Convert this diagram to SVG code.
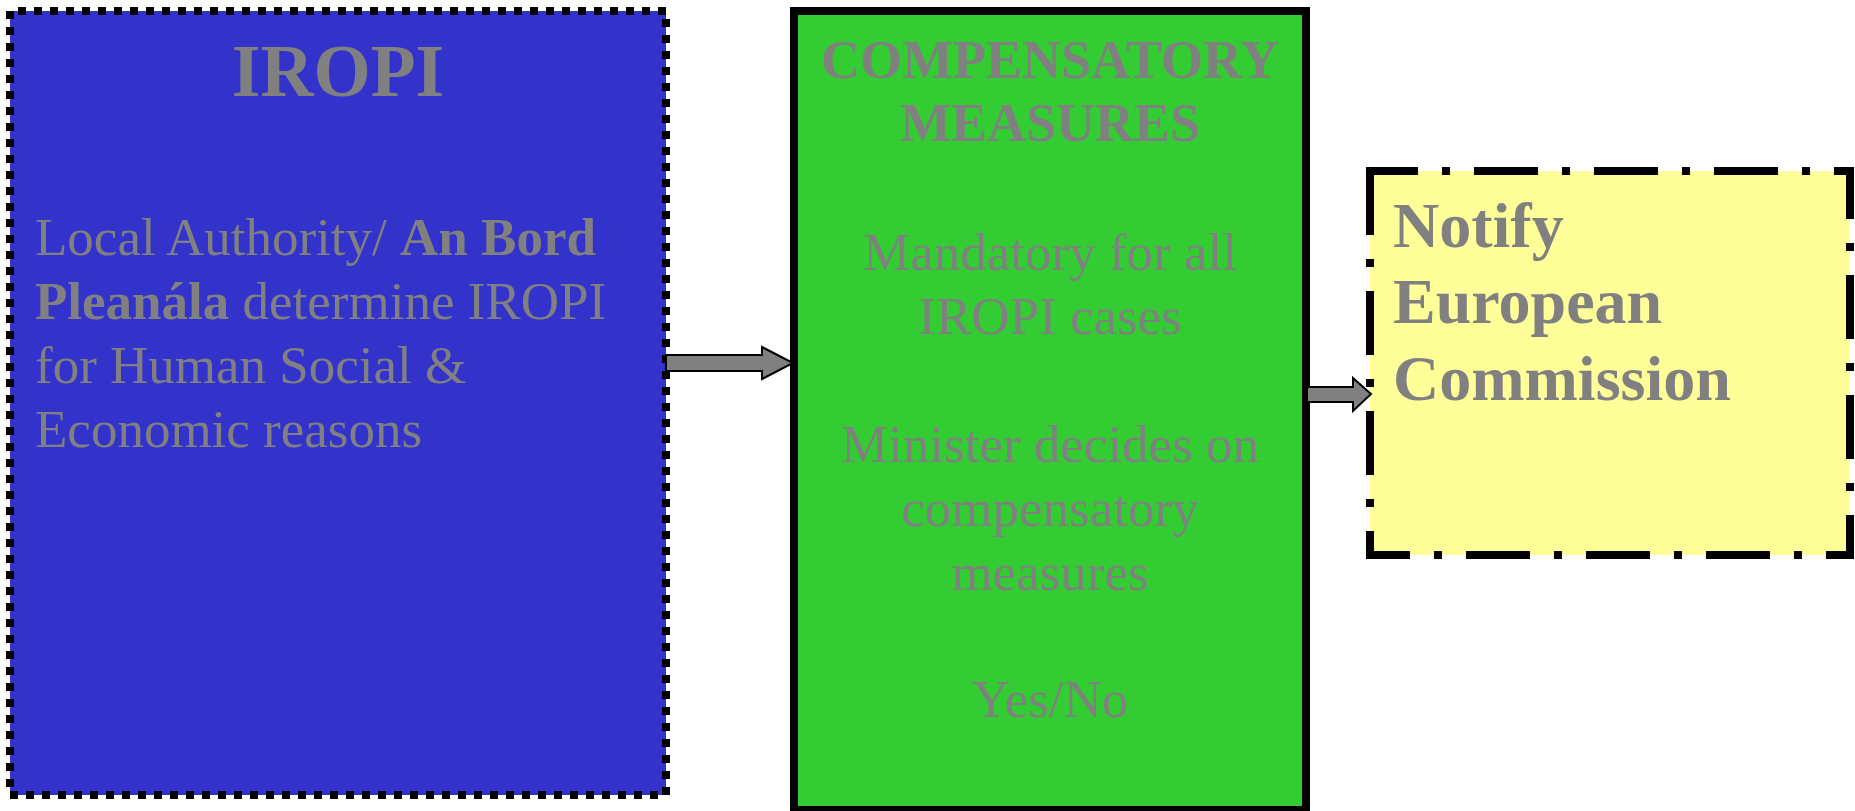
<svg xmlns="http://www.w3.org/2000/svg" width="1855" height="811" viewBox="0 0 1855 811">
<style>
.t{font-family:"Liberation Serif","Times New Roman",serif;fill:#808080;}
.b{font-weight:bold;}
.arrow{fill:#808080;stroke:#000;stroke-width:2;stroke-linejoin:miter;}
</style>
<rect width="1855" height="811" fill="#fff"/>
<g id="node-iropi">
<rect x="10" y="11" width="656" height="784" fill="#3333CC" stroke="#000" stroke-width="8" stroke-dasharray="8 8" stroke-dashoffset="8"/>
<text class="t b" x="338" y="96" font-size="73.5" text-anchor="middle">IROPI</text>
<text class="t" font-size="53" x="35" y="255">Local Authority/ <tspan class="b">An Bord</tspan></text>
<text class="t" font-size="53" x="35" y="319"><tspan class="b">Pleanála</tspan> determine IROPI</text>
<text class="t" font-size="53" x="35" y="383">for Human Social &amp;</text>
<text class="t" font-size="53" x="35" y="447">Economic reasons</text>
</g>
<g id="node-compensatory">
<rect x="794" y="11" width="512" height="799" fill="#33CC33" stroke="#000" stroke-width="8"/>
<text class="t b" font-size="54" x="1050" y="78" text-anchor="middle">COMPENSATORY</text>
<text class="t b" font-size="54" x="1050" y="141" text-anchor="middle">MEASURES</text>
<text class="t" font-size="53" x="1050" y="270" text-anchor="middle">Mandatory for all</text>
<text class="t" font-size="53" x="1050" y="334" text-anchor="middle">IROPI cases</text>
<text class="t" font-size="53" x="1050" y="462" text-anchor="middle">Minister decides on</text>
<text class="t" font-size="53" x="1050" y="526" text-anchor="middle">compensatory</text>
<text class="t" font-size="53" x="1050" y="590" text-anchor="middle">measures</text>
<text class="t" font-size="53" x="1050" y="717" text-anchor="middle">Yes/No</text>
</g>
<g id="node-notify">
<rect x="1370" y="171" width="480" height="384" fill="#FFFF99" stroke="#000" stroke-width="8" stroke-dasharray="64 24 8 24" stroke-dashoffset="16"/>
<text class="t b" font-size="64" x="1393" y="247">Notify</text>
<text class="t b" font-size="64" x="1393" y="323">European</text>
<text class="t b" font-size="64" x="1393" y="400">Commission</text>
</g>
<g id="connectors">
<polygon class="arrow" points="666,355 762,355 762,347 793,363 762,379 762,371 666,371"/>
<polygon class="arrow" points="1307,387 1353,387 1353,378 1371,394 1353,411 1353,402 1307,402"/>
</g>
</svg>
